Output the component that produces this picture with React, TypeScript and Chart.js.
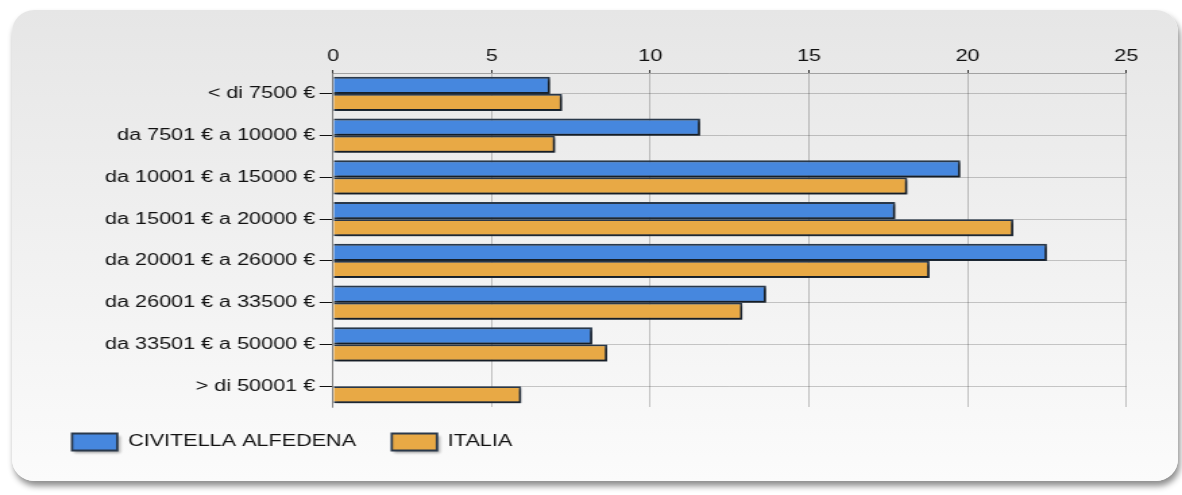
import React, { useEffect, useRef } from "react";
import { Chart, registerables } from "chart.js";

Chart.register(...registerables);

const categories = [
  "< di 7500 €",
  "da 7501 € a 10000 €",
  "da 10001 € a 15000 €",
  "da 15001 € a 20000 €",
  "da 20001 € a 26000 €",
  "da 26001 € a 33500 €",
  "da 33501 € a 50000 €",
  "> di 50001 €",
];
const civitellaValues = [6.84, 11.57, 19.77, 17.72, 22.5, 13.65, 8.17, 0];
const italiaValues = [7.22, 7.0, 18.1, 21.44, 18.8, 12.9, 8.64, 5.93];
const seriesNames = ["CIVITELLA ALFEDENA", "ITALIA"];
const xTickMax = 25;
const xTickStep = 5;

// canvas is drawn narrower and stretched horizontally, like the reference
const W = 1182;
const H = 495;
const S = 1.349;
const CW = Math.round(W / S);

const BLUE = "#4687de";
const ORANGE = "#e8a945";
const BORDER = "#2a394b";
const FONT = "'Liberation Sans', Arial, sans-serif";

const shadowPlugin = {
  id: "barShadow",
  beforeDraw(chart: any) {
    const legend = chart.legend;
    if (!legend || !legend.legendHitBoxes) return;
    const ctx = chart.ctx;
    const lab = legend.options.labels;
    ctx.save();
    ctx.shadowColor = "rgba(0,0,0,0.55)";
    ctx.shadowBlur = 2.5;
    ctx.shadowOffsetX = 2;
    ctx.shadowOffsetY = 2;
    ctx.fillStyle = "rgba(0,0,0,0.6)";
    legend.legendHitBoxes.forEach((hb: any) => {
      ctx.fillRect(hb.left, hb.top, lab.boxWidth, lab.boxHeight);
    });
    ctx.restore();
  },
  beforeDatasetsDraw(chart: any) {
    const ctx = chart.ctx;
    ctx.save();
    ctx.shadowColor = "rgba(0,0,0,0.55)";
    ctx.shadowBlur = 2.5;
    ctx.shadowOffsetX = 2;
    ctx.shadowOffsetY = 2;
  },
  afterDatasetsDraw(chart: any) {
    chart.ctx.restore();
  },
};

export default function App() {
  const ref = useRef<HTMLCanvasElement | null>(null);

  useEffect(() => {
    if (!ref.current) return;
    const padLeft = 26.9;
    const legendPad = 26.5;
    const chart = new Chart(ref.current, {
      type: "bar",
      data: {
        labels: categories,
        datasets: [
          {
            label: seriesNames[0],
            data: civitellaValues,
            backgroundColor: BLUE,
            borderColor: BORDER,
            borderWidth: 1.8,
            categoryPercentage: 0.815,
            barPercentage: 1,
            clip: false as any,
          },
          {
            label: seriesNames[1],
            data: italiaValues,
            backgroundColor: ORANGE,
            borderColor: BORDER,
            borderWidth: 1.8,
            categoryPercentage: 0.815,
            barPercentage: 1,
            clip: false as any,
          },
        ],
      },
      options: {
        indexAxis: "y",
        responsive: false,
        animation: false,
        devicePixelRatio: 1,
        font: { family: FONT, size: 16 } as any,
        layout: {
          padding: { left: padLeft, right: CW - 1126 / S, top: 0, bottom: 34.5 },
        },
        plugins: {
          tooltip: { enabled: false },
          legend: {
            position: "bottom",
            align: "start",
            labels: {
              boxWidth: 33.5,
              boxHeight: 17,
              padding: legendPad,
              color: "#111",
              font: { family: FONT, size: 16 },
            },
          },
        },
        scales: {
          x: {
            position: "top",
            min: 0,
            max: xTickMax,
            afterFit: (s: any) => {
              s.height = 73;
            },
            ticks: {
              stepSize: xTickStep,
              padding: 3.4,
              color: "#111",
              font: { family: FONT, size: 16 },
            },
            grid: {
              color: "rgba(0,0,0,0.22)",
              tickColor: "#333",
              tickLength: 3,
              lineWidth: 1,
            },
            border: { color: "rgba(0,0,0,0.3)" },
          },
          y: {
            afterFit: (s: any) => {
              s.width = 333 / S - padLeft;
            },
            ticks: {
              padding: 3.3,
              color: "#111",
              font: { family: FONT, size: 16 },
            },
            grid: {
              offset: false,
              color: "rgba(0,0,0,0.2)",
              tickColor: "#111",
              tickLength: 10,
              lineWidth: 1,
            },
            border: { color: "rgba(0,0,0,0.35)" },
          },
        },
      },
      plugins: [shadowPlugin],
    });
    return () => chart.destroy();
  }, []);

  return (
    <div
      style={{
        position: "fixed",
        left: 0,
        top: 0,
        width: W,
        height: H,
        background: "#ffffff",
        overflow: "hidden",
      }}
    >
      <div
        style={{
          position: "absolute",
          left: 12,
          top: 10,
          width: 1166,
          height: 471,
          borderRadius: 22,
          background: "linear-gradient(#e6e6e6, #fbfbfb)",
          boxShadow: "2px 5px 6px rgba(0,0,0,0.45)",
        }}
      />
      <canvas
        ref={ref}
        width={CW}
        height={H}
        style={{ position: "absolute", left: 0, top: 0, width: W + "px", height: H + "px" }}
      />
    </div>
  );
}
